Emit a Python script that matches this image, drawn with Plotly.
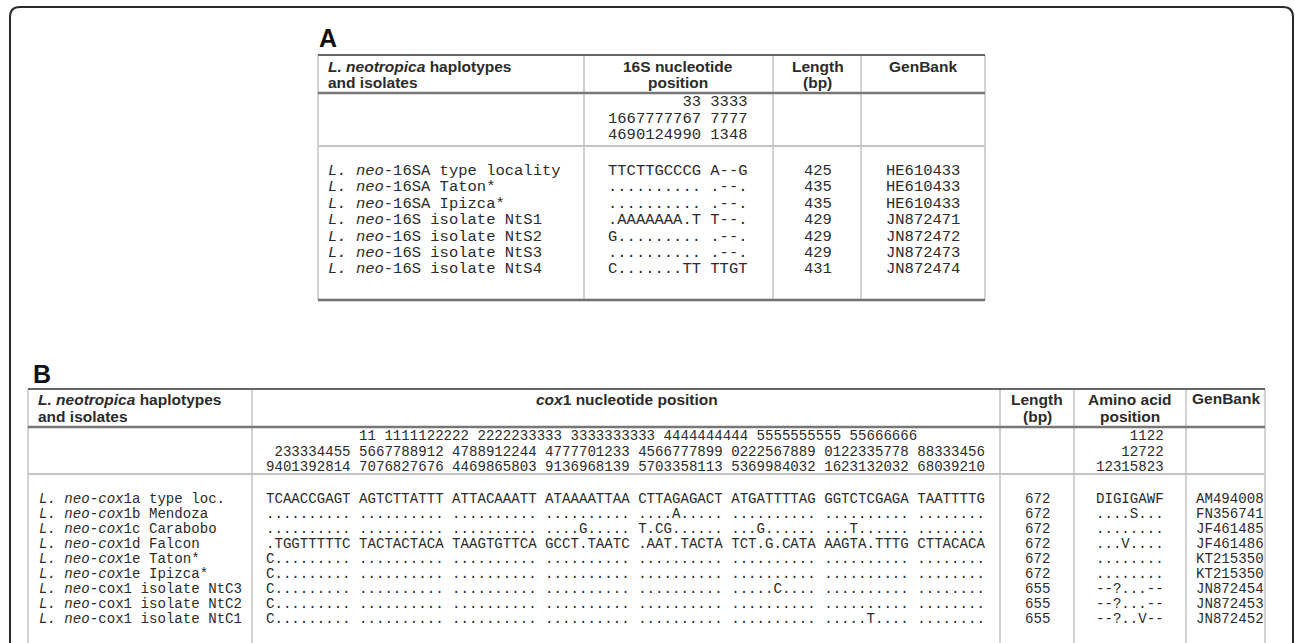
import plotly.graph_objects as go

# ---------------- Table A: 16S haplotypes ----------------
a_names = [
    "L. neo-16SA type locality",
    "L. neo-16SA Taton*",
    "L. neo-16SA Ipizca*",
    "L. neo-16S isolate NtS1",
    "L. neo-16S isolate NtS2",
    "L. neo-16S isolate NtS3",
    "L. neo-16S isolate NtS4",
]
a_positions = [
    "        33 3333",
    "1667777767 7777",
    "4690124990 1348",
]
a_sequences = [
    "TTCTTGCCCG A--G",
    ".......... .--.",
    ".......... .--.",
    ".AAAAAAA.T T--.",
    "G......... .--.",
    ".......... .--.",
    "C.......TT TTGT",
]
a_lengths = [425, 435, 435, 429, 429, 429, 431]
a_genbank = ["HE610433", "HE610433", "HE610433", "JN872471",
             "JN872472", "JN872473", "JN872474"]

# ---------------- Table B: cox1 haplotypes ----------------
b_names = [
    "L. neo-cox1a type loc.",
    "L. neo-cox1b Mendoza",
    "L. neo-cox1c Carabobo",
    "L. neo-cox1d Falcon",
    "L. neo-cox1e Taton*",
    "L. neo-cox1e Ipizca*",
    "L. neo-cox1 isolate NtC3",
    "L. neo-cox1 isolate NtC2",
    "L. neo-cox1 isolate NtC1",
]
b_positions = [
    "           11 1111122222 2222233333 3333333333 4444444444 5555555555 55666666",
    " 233334455 5667788912 4788912244 4777701233 4566777899 0222567889 0122335778 88333456",
    "9401392814 7076827676 4469865803 9136968139 5703358113 5369984032 1623132032 68039210",
]
b_sequences = [
    "TCAACCGAGT AGTCTTATTT ATTACAAATT ATAAAATTAA CTTAGAGACT ATGATTTTAG GGTCTCGAGA TAATTTTG",
    ".......... .......... .......... .......... ....A..... .......... .......... ........",
    ".......... .......... .......... ....G..... T.CG...... ...G...... ...T...... ........",
    ".TGGTTTTTC TACTACTACA TAAGTGTTCA GCCT.TAATC .AAT.TACTA TCT.G.CATA AAGTA.TTTG CTTACACA",
    "C......... .......... .......... .......... .......... .......... .......... ........",
    "C......... .......... .......... .......... .......... .......... .......... ........",
    "C......... .......... .......... .......... .......... .....C.... .......... ........",
    "C......... .......... .......... .......... .......... .......... .......... ........",
    "C......... .......... .......... .......... .......... .......... .....T.... ........",
]
b_lengths = [672, 672, 672, 672, 672, 672, 655, 655, 655]
b_aa_positions = ["    1122", "   12722", "12315823"]
b_amino = ["DIGIGAWF", "....S...", "........", "...V....", "........",
           "........", "--?...--", "--?...--", "--?..V--"]
b_genbank = ["AM494008", "FN356741", "JF461485", "JF461486", "KT215350",
             "KT215350", "JN872454", "JN872453", "JN872452"]

# ---------------- styling ----------------
W, H = 1295, 643
TEXT = "#2b2b2b"
SANS = "Liberation Sans, Arial, sans-serif"
MONO = "Liberation Mono, Courier New, monospace"
HEAD_SIZE = 15.5
MONO_A = 15.5
MONO_B = 14.1

annotations = []
shapes = []


def mono(s):
    # keep runs of spaces intact inside the SVG text
    return s.replace(" ", "\u00a0")


def label(x, y, text, size, family, anchor="left", color=TEXT):
    annotations.append(dict(
        x=x, y=y, xref="x", yref="y", text=text, showarrow=False,
        xanchor=anchor, yanchor="middle", borderpad=0, borderwidth=0,
        font=dict(family=family, size=size, color=color),
    ))


def hline(x0, x1, y, color, width):
    shapes.append(dict(type="line", xref="x", yref="y", x0=x0, x1=x1,
                       y0=y, y1=y, line=dict(color=color, width=width)))


def vline(x, y0, y1, color="#d2d2d2", width=2):
    shapes.append(dict(type="line", xref="x", yref="y", x0=x, x1=x,
                       y0=y0, y1=y1, line=dict(color=color, width=width)))


def name_a(n):
    head, rest = n[:6], n[6:]
    return "<i>" + mono(head) + "</i>" + mono(rest)


def name_b(n):
    word = n.split(" ")[1]
    cut = 10 if word[-1].isalpha() and word[-2].isdigit() else 7
    return "<i>" + mono(n[:cut]) + "</i>" + mono(n[cut:])


# outer frame with rounded top corners
R = 10
fx0, fx1, fy0, fy1 = 10, 1293, 7, 700
shapes.append(dict(
    type="path", xref="x", yref="y",
    path=(f"M {fx0},{fy1} L {fx0},{fy0 + R} Q {fx0},{fy0} {fx0 + R},{fy0} "
          f"L {fx1 - R},{fy0} Q {fx1},{fy0} {fx1},{fy0 + R} L {fx1},{fy1}"),
    line=dict(color="#2a2a2a", width=2),
))

# ---- Table A geometry ----
ax = [318, 584, 773, 861, 985]
a_top, a_head, a_pos, a_bot = 55, 93, 146, 300
for x in ax:
    vline(x, a_top, a_bot)
hline(ax[0], ax[-1], a_top, "#666666", 2)
hline(ax[0], ax[-1], a_head, "#777777", 2.5)
hline(ax[0], ax[-1], a_pos, "#c4c4c4", 2)
hline(ax[0], ax[-1], a_bot, "#707070", 2.5)

label(319, 38, "<b>A</b>", 25, SANS, color="#111111")
label(328, 66, "<b><i>L. neotropica</i> haplotypes</b>", HEAD_SIZE, SANS)
label(328, 82, "<b>and isolates</b>", HEAD_SIZE, SANS)
label(678, 66, "<b>16S nucleotide</b>", HEAD_SIZE, SANS, "center")
label(678, 82, "<b>position</b>", HEAD_SIZE, SANS, "center")
label(817.5, 66, "<b>Length</b>", HEAD_SIZE, SANS, "center")
label(817.5, 82, "<b>(bp)</b>", HEAD_SIZE, SANS, "center")
label(923, 66, "<b>GenBank</b>", HEAD_SIZE, SANS, "center")

a_seq_x = 608
for i, row in enumerate(a_positions):
    label(a_seq_x, 102 + 16.5 * i, mono(row), MONO_A, MONO)

a_row0, a_step = 171, 16.4
for i in range(len(a_names)):
    y = a_row0 + a_step * i
    label(328, y, name_a(a_names[i]), MONO_A, MONO)
    label(a_seq_x, y, mono(a_sequences[i]), MONO_A, MONO)
    label(817.5, y, str(a_lengths[i]), MONO_A, MONO, "center")
    label(923, y, a_genbank[i], MONO_A, MONO, "center")

# ---- Table B geometry ----
bx = [28, 252, 1000, 1074, 1186, 1265]
b_top, b_head, b_pos, b_bot = 389, 427, 474, 700
for x in bx:
    vline(x, b_top, b_bot)
hline(bx[0], bx[-1], b_top, "#666666", 2)
hline(bx[0], bx[-1], b_head, "#777777", 2.5)
hline(bx[0], bx[-1], b_pos, "#c4c4c4", 2)

label(33, 374, "<b>B</b>", 25, SANS, color="#111111")
label(38, 399, "<b><i>L. neotropica</i> haplotypes</b>", HEAD_SIZE, SANS)
label(38, 416, "<b>and isolates</b>", HEAD_SIZE, SANS)
label(627, 399, "<b><i>cox</i>1 nucleotide position</b>", HEAD_SIZE, SANS, "center")
label(1037, 399, "<b>Length</b>", HEAD_SIZE, SANS, "center")
label(1037, 416, "<b>(bp)</b>", HEAD_SIZE, SANS, "center")
label(1130, 399, "<b>Amino acid</b>", HEAD_SIZE, SANS, "center")
label(1130, 416, "<b>position</b>", HEAD_SIZE, SANS, "center")
label(1226, 398, "<b>GenBank</b>", HEAD_SIZE, SANS, "center")

b_seq_x = 266
for i, row in enumerate(b_positions):
    label(b_seq_x, 436 + 15.5 * i, mono(row), MONO_B, MONO)
    label(1130, 436 + 15.5 * i, mono(b_aa_positions[i]), MONO_B, MONO, "center")

b_row0, b_step = 499, 15
for i in range(len(b_names)):
    y = b_row0 + b_step * i
    label(39, y, name_b(b_names[i]), MONO_B, MONO)
    label(b_seq_x, y, mono(b_sequences[i]), MONO_B, MONO)
    label(1037, y, str(b_lengths[i]), MONO_B, MONO, "center")
    label(1130, y, mono(b_amino[i]), MONO_B, MONO, "center")
    label(1230, y, b_genbank[i], MONO_B, MONO, "center")

fig = go.Figure()
fig.update_layout(
    width=W, height=H,
    margin=dict(l=0, r=0, t=0, b=0),
    paper_bgcolor="white", plot_bgcolor="white",
    xaxis=dict(range=[0, W], visible=False, fixedrange=True),
    yaxis=dict(range=[H, 0], visible=False, fixedrange=True),
    shapes=shapes, annotations=annotations,
    showlegend=False,
)
fig.write_html("out.html", config={"displayModeBar": False})
